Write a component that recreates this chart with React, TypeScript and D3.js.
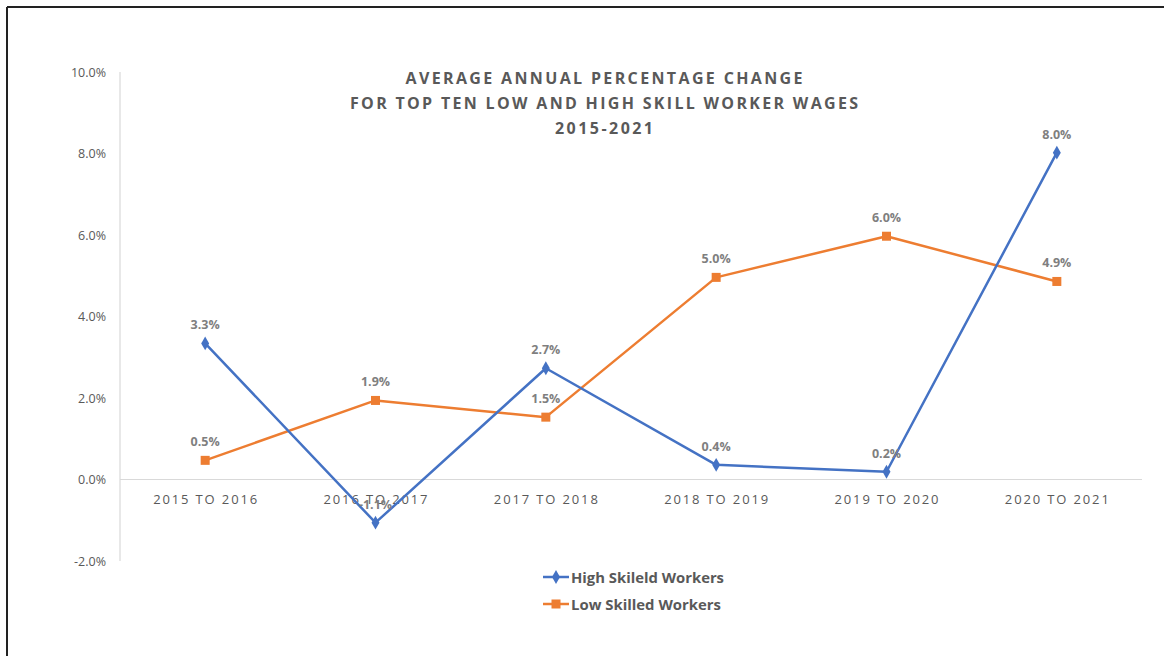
import React from "react";
import * as d3 from "d3";

const categories = ["2015 TO 2016", "2016 TO 2017", "2017 TO 2018", "2018 TO 2019", "2019 TO 2020", "2020 TO 2021"];
const highSkilled = [3.34, -1.06, 2.73, 0.36, 0.19, 8.02];
const lowSkilled = [0.47, 1.94, 1.53, 4.96, 5.97, 4.86];
const yTicks = [-2, 0, 2, 4, 6, 8, 10];
const titleLines = ["AVERAGE ANNUAL PERCENTAGE CHANGE", "FOR TOP TEN LOW AND HIGH SKILL WORKER WAGES", "2015-2021"];
const seriesNames = ["High Skileld Workers", "Low Skilled Workers"];

const W = 1164, H = 656;
const plot = { left: 120, right: 1142, top: 72, bottom: 561 };
const BLUE = "#4472C4", ORANGE = "#ED7D31", GRAY = "#595959", LABEL = "#7F7F7F";
const FONT = "'Open Sans', sans-serif";

export default function App() {
  const x = d3.scaleBand<string>().domain(categories).range([plot.left, plot.right]);
  const cx = (c: string) => (x(c) as number) + x.bandwidth() / 2;
  const y = d3.scaleLinear().domain([-2, 10]).range([plot.bottom, plot.top]);
  const line = d3.line<number>().x((_, i) => cx(categories[i])).y((v) => y(v));
  const fmt = (v: number) => v.toFixed(1) + "%";
  const titleWidths = [397, 508, 98];
  const legendWidths = [153, 150];
  const diamond = d3.symbol().type(d3.symbolDiamond).size(55)();

  return (
    <svg width={W} height={H} style={{ position: "absolute", left: 0, top: 0, background: "#fff" }} fontFamily={FONT}>
      <rect x={0} y={0} width={W} height={H} fill="#fff" />
      <line x1={7} y1={7} x2={W} y2={7} stroke="#222" strokeWidth={2} />
      <line x1={7} y1={7} x2={7} y2={H} stroke="#222" strokeWidth={2} />

      {titleLines.map((t, i) => (
        <text key={t} x={604} y={84 + i * 25} textAnchor="middle" fontSize={16} fontWeight={700} fill={GRAY}
          textLength={titleWidths[i]} lengthAdjust="spacing">{t}</text>
      ))}

      <line x1={plot.left} y1={plot.top} x2={plot.left} y2={plot.bottom} stroke="#D9D9D9" strokeWidth={1.2} />
      <line x1={plot.left} y1={y(0)} x2={plot.right} y2={y(0)} stroke="#D9D9D9" strokeWidth={1.2} />

      {yTicks.map((t) => (
        <text key={t} x={106} y={y(t) + 4.5} textAnchor="end" fontSize={12.5} fill={GRAY}>{t.toFixed(1) + "%"}</text>
      ))}

      {categories.map((c) => (
        <text key={c} x={cx(c)} y={504} textAnchor="middle" fontSize={13} fill={GRAY}
          textLength={104} lengthAdjust="spacing">{c}</text>
      ))}

      <path d={line(lowSkilled) || ""} fill="none" stroke={ORANGE} strokeWidth={2.5} strokeLinejoin="round" />
      <path d={line(highSkilled) || ""} fill="none" stroke={BLUE} strokeWidth={2.5} strokeLinejoin="round" />

      {lowSkilled.map((v, i) => (
        <rect key={"l" + i} x={cx(categories[i]) - 4.5} y={y(v) - 4.5} width={9} height={9} fill={ORANGE} />
      ))}
      {highSkilled.map((v, i) => (
        <path key={"h" + i} d={diamond || ""} transform={`translate(${cx(categories[i])},${y(v)})`} fill={BLUE} />
      ))}

      {highSkilled.map((v, i) => (
        <text key={"hl" + i} x={cx(categories[i])} y={y(v) - 14} textAnchor="middle" fontSize={12.5} fontWeight={700} fill={LABEL}>{fmt(v)}</text>
      ))}
      {lowSkilled.map((v, i) => (
        <text key={"ll" + i} x={cx(categories[i])} y={y(v) - 14} textAnchor="middle" fontSize={12.5} fontWeight={700} fill={LABEL}>{fmt(v)}</text>
      ))}

      {seriesNames.map((n, i) => {
        const ly = 577 + i * 27;
        const col = i === 0 ? BLUE : ORANGE;
        return (
          <g key={n}>
            <line x1={543} y1={ly} x2={569} y2={ly} stroke={col} strokeWidth={2.5} />
            {i === 0 ? (
              <path d={diamond || ""} transform={`translate(556,${ly})`} fill={col} />
            ) : (
              <rect x={551.5} y={ly - 4.5} width={9} height={9} fill={col} />
            )}
            <text x={571} y={ly + 5.5} fontSize={15} fontWeight={700} fill={GRAY}
              textLength={legendWidths[i]} lengthAdjust="spacingAndGlyphs">{n}</text>
          </g>
        );
      })}
    </svg>
  );
}
